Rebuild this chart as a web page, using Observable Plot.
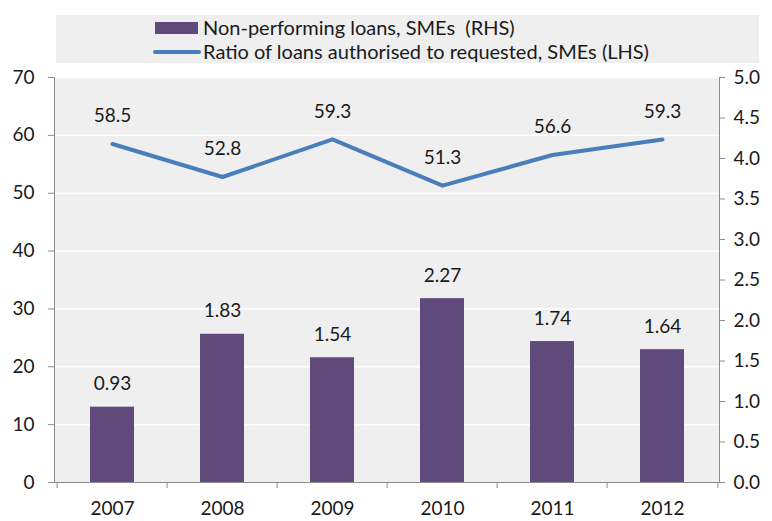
<!DOCTYPE html>
<html>
<head>
<meta charset="utf-8">
<script src="https://cdn.jsdelivr.net/npm/d3@7"></script>
<script src="https://cdn.jsdelivr.net/npm/@observablehq/plot@0.6"></script>
<style>
  html, body { margin: 0; padding: 0; background: #fff; }
  #wrap { position: relative; width: 772px; height: 521px; font-family: Lato, "Open Sans", sans-serif; color: #1a1a1a; }
  #legend { position: relative; width: 772px; height: 68px; }
  #legend .box { position: absolute; left: 56px; top: 15px; width: 703px; height: 48px; background: #efefef; }
  #legend .sw1 { position: absolute; left: 155px; top: 22px; width: 43px; height: 12px; background: #604a7b; }
  #legend .sw2 { position: absolute; left: 153px; top: 50px; width: 48px; height: 4px; background: #4a7ebb; border-radius: 2px; }
  #legend .t { position: absolute; left: 203px; font-size: 20px; line-height: 22px; white-space: pre; }
  #chart svg { display: block; overflow: visible; }
</style>
</head>
<body>
<div id="wrap">
  <div id="legend"></div>
  <div id="chart"></div>
</div>
<script>
// ---- data ----
const years = ["2007", "2008", "2009", "2010", "2011", "2012"];
const nplRHS = [0.93, 1.83, 1.54, 2.27, 1.74, 1.64];      // Non-performing loans, SMEs (RHS)
const ratioLHS = [58.5, 52.8, 59.3, 51.3, 56.6, 59.3];    // Ratio of loans authorised to requested (LHS)
const lhsTicks = [0, 10, 20, 30, 40, 50, 60, 70];
const rhsTicks = [0, 0.5, 1, 1.5, 2, 2.5, 3, 3.5, 4, 4.5, 5];
const legendLabels = ["Non-performing loans, SMEs  (RHS)", "Ratio of loans authorised to requested, SMEs (LHS)"];

// ---- layout ----
const W = 772, H = 453, mL = 54, mR = 53, mT = 9, mB = 39;
const k = lhsTicks[lhsTicks.length - 1] / rhsTicks[rhsTicks.length - 1]; // RHS -> LHS
const bw = (W - mL - mR) / years.length;
const axisColor = "#8c8c8c";

const data = years.map((y, i) => ({year: y, npl: nplRHS[i], ratio: ratioLHS[i]}));

// legend
const lg = document.getElementById("legend");
lg.innerHTML = `<div class="box"></div><div class="sw1"></div><div class="sw2"></div>
<div class="t" style="top:16px">${legendLabels[0]}</div>
<div class="t" style="top:40px">${legendLabels[1]}</div>`;

const chart = Plot.plot({
  width: W, height: H,
  marginLeft: mL, marginRight: mR, marginTop: mT, marginBottom: mB,
  style: {fontFamily: "Lato, 'Open Sans', sans-serif", fontSize: "19px", color: "#1a1a1a", background: "transparent", overflow: "visible"},
  x: {type: "band", domain: years, padding: 0, axis: null},
  y: {domain: [lhsTicks[0], lhsTicks[lhsTicks.length - 1]], axis: null},
  marks: [
    Plot.frame({fill: "#efefef"}),
    Plot.gridY(lhsTicks.slice(1), {stroke: "#ffffff", strokeOpacity: 1, strokeWidth: 1.5}),
    Plot.barY(data, {x: "year", y: d => d.npl * k, fill: "#604a7b", insetLeft: 33, insetRight: 33}),
    Plot.text(data, {x: "year", y: d => d.npl * k, text: d => d.npl.toFixed(2), dy: -23, lineAnchor: "middle"}),
    Plot.line(data, {x: "year", y: "ratio", stroke: "#4a7ebb", strokeWidth: 4, strokeLinejoin: "round", strokeLinecap: "round"}),
    Plot.text(data, {x: "year", y: "ratio", text: d => d.ratio.toFixed(1), dy: -28, lineAnchor: "middle"}),
    Plot.frame({anchor: "left", stroke: axisColor}),
    Plot.frame({anchor: "right", stroke: axisColor}),
    Plot.frame({anchor: "bottom", stroke: axisColor}),
    Plot.axisY(lhsTicks, {anchor: "left", label: null, tickSize: 6, tickPadding: 14, stroke: axisColor}),
    Plot.axisY(rhsTicks.map(v => v * k), {anchor: "right", label: null, tickSize: 5, tickPadding: 9, stroke: axisColor, tickFormat: d => (d / k).toFixed(1)}),
    Plot.axisX({label: null, tickSize: 0, tickPadding: 19}),
    Plot.ruleX(years, {x: d => d, dx: -bw / 2, y1: 0, y2: -1.05, stroke: axisColor}),
    Plot.ruleX(years.slice(-1), {x: d => d, dx: bw / 2, y1: 0, y2: -1.05, stroke: axisColor})
  ]
});
document.getElementById("chart").appendChild(chart);
</script>
</body>
</html>
